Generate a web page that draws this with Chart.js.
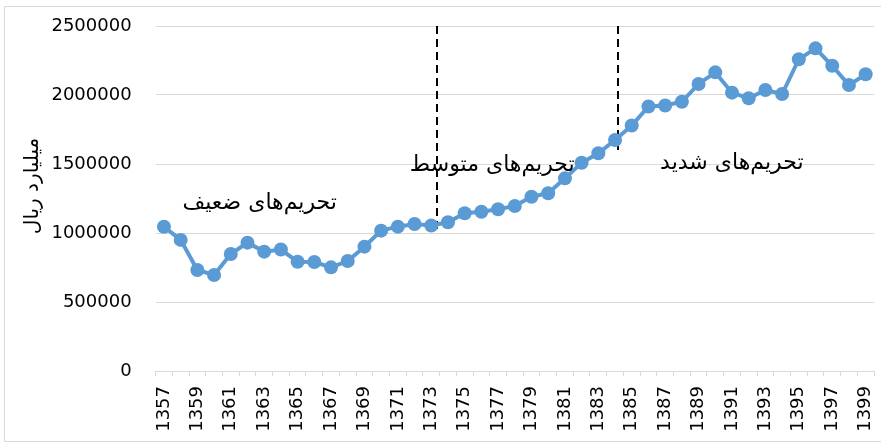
<!DOCTYPE html>
<html>
<head>
<meta charset="utf-8">
<script src="https://cdn.jsdelivr.net/npm/chart.js@4.4.1/dist/chart.umd.min.js"></script>
<style>
  html, body { margin: 0; padding: 0; background: #ffffff; }
  #wrap { width: 881px; height: 445px; position: relative; }
</style>
</head>
<body>
<div id="wrap"><canvas id="c" width="881" height="445"></canvas></div>
<script>
// ---- data ----
const years = ['1357','1358','1359','1360','1361','1362','1363','1364','1365','1366','1367','1368','1369','1370','1371','1372','1373','1374','1375','1376','1377','1378','1379','1380','1381','1382','1383','1384','1385','1386','1387','1388','1389','1390','1391','1392','1393','1394','1395','1396','1397','1398','1399'];
const values = [1045000, 950000, 732000, 696000, 848000, 930000, 865000, 880000, 792000, 790000, 751000, 797000, 901000, 1017000, 1046000, 1065000, 1054000, 1078000, 1143000, 1154000, 1172000, 1196000, 1263000, 1288000, 1396000, 1509000, 1578000, 1674000, 1779000, 1917000, 1924000, 1951000, 2080000, 2164000, 2017000, 1976000, 2036000, 2007000, 2259000, 2338000, 2212000, 2072000, 2150000];
const yTicks = [0, 500000, 1000000, 1500000, 2000000, 2500000];
const yTitle = 'میلیارد ریال';
const phaseNames = ['تحریم‌های ضعیف', 'تحریم‌های متوسط', 'تحریم‌های شدید'];
// sanction period boundaries (category index position, value range of dashed line)
const boundaryIndex = [16.33, 27.18];
const boundaryTop = [2500000, 2500000];
const boundaryBottom = [1022000, 1601000];
// label anchors (category index, value)
const phaseIndex = [5.73, 19.65, 33.99];
const phaseValue = [1217000, 1493000, 1507000];

const annot = {
  id: 'annot',
  beforeDraw(chart) {
    const ctx = chart.ctx;
    ctx.save();
    ctx.strokeStyle = '#d9d9d9';
    ctx.lineWidth = 1;
    ctx.beginPath();
    ctx.moveTo(4.5, 441.5); ctx.lineTo(4.5, 6.5); ctx.lineTo(881, 6.5);
    ctx.moveTo(4.5, 441.5); ctx.lineTo(881, 441.5);
    ctx.stroke();
    ctx.restore();
  },
  beforeDatasetsDraw(chart) {
    const ctx = chart.ctx, xs = chart.scales.x, ys = chart.scales.y;
    const step = xs.getPixelForValue(1) - xs.getPixelForValue(0);
    ctx.save();
    ctx.strokeStyle = '#000000';
    ctx.lineWidth = 2;
    ctx.setLineDash([8, 5]);
    for (let i = 0; i < boundaryIndex.length; i++) {
      const bi = Math.floor(boundaryIndex[i]);
      const x = Math.round(xs.getPixelForValue(bi) + (boundaryIndex[i] - bi) * step);
      ctx.beginPath();
      ctx.moveTo(x, ys.getPixelForValue(boundaryTop[i]));
      ctx.lineTo(x, ys.getPixelForValue(boundaryBottom[i]));
      ctx.stroke();
    }
    ctx.restore();
  },
  afterDatasetsDraw(chart) {
    const ctx = chart.ctx, xs = chart.scales.x, ys = chart.scales.y;
    const step = xs.getPixelForValue(1) - xs.getPixelForValue(0);
    ctx.save();
    ctx.fillStyle = '#000000';
    ctx.font = '22px "DejaVu Sans"';
    ctx.textAlign = 'center';
    ctx.textBaseline = 'middle';
    ctx.direction = 'rtl';
    for (let i = 0; i < phaseNames.length; i++) {
      const bi = Math.floor(phaseIndex[i]);
      const x = xs.getPixelForValue(bi) + (phaseIndex[i] - bi) * step;
      ctx.fillText(phaseNames[i], x, ys.getPixelForValue(phaseValue[i]));
    }
    // y axis title
    ctx.font = '20px "DejaVu Sans"';
    ctx.translate(33, 186);
    ctx.rotate(-Math.PI / 2);
    ctx.fillText(yTitle, 0, 0);
    ctx.restore();
  }
};

new Chart(document.getElementById('c'), {
  type: 'line',
  data: {
    labels: years,
    datasets: [{
      data: values,
      borderColor: '#5b9bd5',
      backgroundColor: '#5b9bd5',
      borderWidth: 4,
      pointRadius: 7,
      pointHoverRadius: 7,
      pointBorderWidth: 0,
      tension: 0
    }]
  },
  options: {
    responsive: false,
    animation: false,
    devicePixelRatio: 1,
    layout: { padding: { left: 0, right: 5.6, top: 26, bottom: 0 } },
    plugins: { legend: { display: false }, tooltip: { enabled: false } },
    scales: {
      x: {
        offset: true,
        afterFit(s) { s.height = 74; s.paddingLeft = 0; s.paddingRight = 0; },
        grid: { offset: true, drawOnChartArea: false, drawTicks: true, tickLength: 5, color: '#d9d9d9' },
        border: { display: true, color: '#d9d9d9', width: 1 },
        ticks: {
          autoSkip: false, maxRotation: 90, minRotation: 90, padding: 10,
          color: '#000000',
          font: { family: 'DejaVu Sans', size: 18 },
          callback(v, i) { return i % 2 === 0 ? years[i] : ''; }
        }
      },
      y: {
        min: 0, max: 2500000,
        afterFit(s) { s.width = 155.6; s.paddingTop = 0; s.paddingBottom = 0; },
        afterBuildTicks(s) { s.ticks = yTicks.map(v => ({ value: v })); },
        grid: { color: '#d9d9d9', drawTicks: false },
        border: { display: false },
        ticks: {
          padding: 24,
          color: '#000000',
          font: { family: 'DejaVu Sans', size: 18 },
          callback(v) { return String(v); }
        }
      }
    }
  },
  plugins: [annot]
});
</script>
</body>
</html>
